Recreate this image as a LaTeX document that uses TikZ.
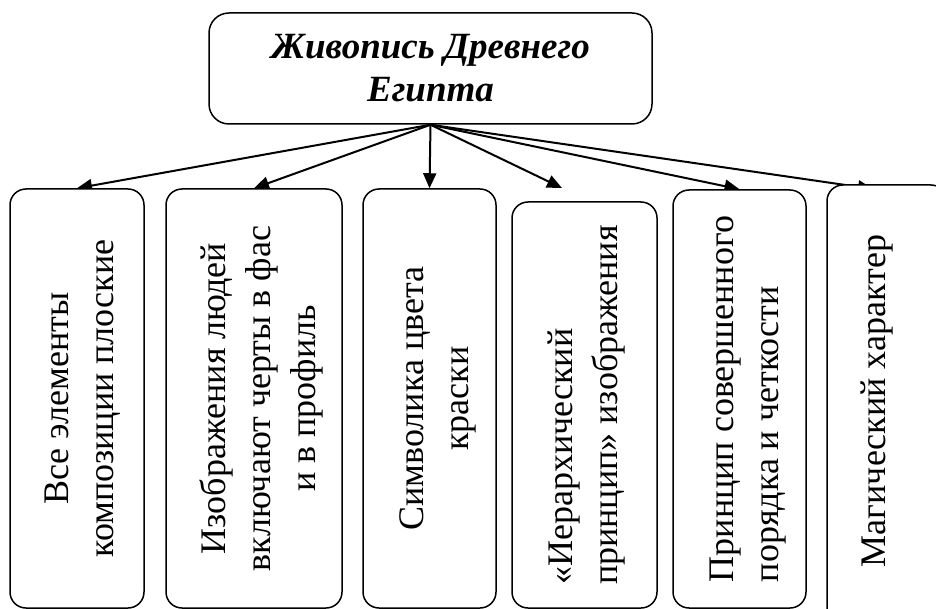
\documentclass[tikz,border=0pt]{standalone}
\usepackage{fontspec}
\setmainfont{Liberation Serif}
\usetikzlibrary{arrows.meta}
\pgfdeclarelayer{background}
\pgfsetlayers{background,main}
\newcommand{\vtext}[3]{\rotatebox{90}{\raisebox{#1}[\height][\depth]{\begin{tabular}{@{}#2@{}}#3\end{tabular}}}}
\begin{document}
\begin{tikzpicture}[x=1pt,y=-1pt,
  boxstyle/.style={draw, line width=1.5pt, rounded corners=16pt, fill=white, inner sep=0pt,
    font=\fontsize{36}{45}\selectfont},
  arr/.style={line width=2pt, -{Triangle[length=15pt,width=13pt]}}
]
\useasboundingbox (0,0) rectangle (936,609);
\clip (0,0) rectangle (936,609);
\node[draw, line width=1.5pt, rounded corners=20pt, minimum width=443pt, minimum height=111pt,
  align=center, inner sep=0pt, font=\fontsize{37}{43}\selectfont\bfseries\itshape]
  (title) at (430.5,68.5) {Живопись Древнего\\Египта};

\node[boxstyle, minimum width=134pt, minimum height=419pt] (b1) at (77,398.5)
  {\vtext{-5pt}{c}{Все элементы\\композиции плоские}};
\node[boxstyle, minimum width=176pt, minimum height=419pt] (b2) at (254,398.5)
  {\vtext{-7pt}{c}{Изображения людей\\включают черты в фас\\и в профиль}};
\node[boxstyle, minimum width=133pt, minimum height=419pt] (b3) at (429.5,398.5)
  {\vtext{-7pt}{c}{Символика цвета\\краски}};
\node[boxstyle, minimum width=145pt, minimum height=406pt] (b4) at (584.5,405)
  {\vtext{-1pt}{l}{«Иерархический\\принцип» изображения}};
\node[boxstyle, minimum width=133pt, minimum height=418pt] (b5) at (739.5,399)
  {\vtext{-7pt}{l}{Принцип совершенного\\порядка и четкости}};
\node[boxstyle, minimum width=120pt, minimum height=445pt] (b6) at (887,407.5) {};
\node[font=\fontsize{36}{45}\selectfont, inner sep=0pt] (t6) at (876,401)
  {\vtext{0pt}{c}{Магический характер}};

\coordinate (e4) at (562,188);
\coordinate (e6) at (873,189);

\begin{pgfonlayer}{background}
\draw[arr] (title.south) -- (b1.north);
\draw[arr] (title.south) -- (b2.north);
\draw[arr] (title.south) -- (b3.north);
\draw[arr] (title.south) -- (e4);
\draw[arr] (title.south) -- (b5.north);
\draw[arr] (title.south) -- (e6);
\end{pgfonlayer}
\end{tikzpicture}
\end{document}
